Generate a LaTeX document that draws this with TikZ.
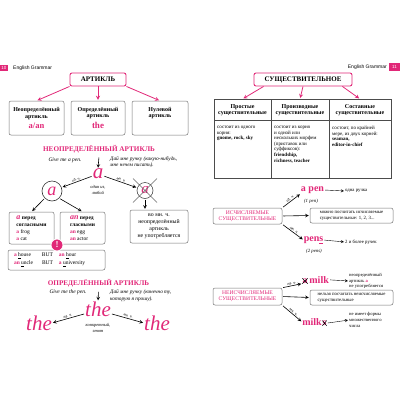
\documentclass[tikz,border=0pt]{standalone}
\usepackage{fontspec}
\setmainfont{Liberation Serif}
\setsansfont{Liberation Sans}
\usetikzlibrary{positioning}
\definecolor{rose}{RGB}{225,40,120}
\newcommand\fsz[2]{\fontsize{#1}{#2}\selectfont}
\newcommand\pk[1]{{\color{rose}\bfseries #1}}
\begin{document}
\begin{tikzpicture}[x=1pt,y=-1pt,>=stealth,
	pink box/.style = {draw=rose, line width=0.9pt, rounded corners=2pt, inner sep=0pt},
	grey box/.style = {draw=black!55, line width=0.5pt, rounded corners=2pt, inner sep=0pt},
	page no/.style = {fill=rose, text=white, font=\sffamily\fsz{4.5}{5}, inner sep=0pt, minimum width=8pt, minimum height=6pt},
	num label/.style = {font=\itshape\fsz{4}{4}, inner sep=0.8pt, sloped, above},
	big letter/.style = {text=rose, font=\itshape\fsz{21}{21}, inner sep=0pt},
	pink arrow/.style = {->, rose, line width=0.8pt, shorten >=1pt},
	black arrow/.style = {->, line width=0.6pt, shorten >=1pt, shorten <=1pt}]
	
	\useasboundingbox (0,0) rectangle (400,400);
	
	% page 10
	\node[page no] (p10) at (4,67.5) {10};
	\node[font=\sffamily\fsz{5}{6}, anchor=west, inner sep=0pt] (hl) at (13,68) {English Grammar};
	
	\node[pink box, minimum width=56pt, minimum height=13pt, font=\bfseries\fsz{7}{7}] (art) at (98,79.5) {АРТИКЛЬ};
	\node[grey box, minimum width=55pt, minimum height=34pt, align=center, font=\bfseries\fsz{6}{6.4}] (indef) at (36.5,118) {Неопределённый\\артикль\\[2pt]{\color{rose}\fsz{8.5}{9}a/an}};
	\node[grey box, minimum width=54pt, minimum height=34pt, align=center, font=\bfseries\fsz{6}{6.4}] (def) at (98,118) {Определённый\\артикль\\[2pt]{\color{rose}\fsz{9}{9}the}};
	\node[grey box, minimum width=56pt, minimum height=34pt, align=center, font=\bfseries\fsz{6}{6.4}] (zero) at (160,118) {Нулевой\\артикль\\[2pt]{\fsz{9}{9}\phantom{the}}};
	
	\path[pink arrow]
	(art.south west) edge (indef.north)
	(art.south) edge (def.north)
	(art.south east) edge (zero.north);
	
	% indefinite article
	\node[text=rose, font=\bfseries\fsz{7.2}{7.2}] (indefhead) at (99,149) {НЕОПРЕДЕЛЁННЫЙ АРТИКЛЬ};
	\node[font=\itshape\fsz{5.5}{6}, inner sep=0pt] (givea) at (65,160.5) {Give me a pen.};
	\node[font=\itshape\fsz{5.3}{6}, inner sep=0pt, anchor=west, align=left] (saya) at (110,162) {Дай мне ручку (какую-нибудь,\\мне нечем писать).};
	\node[big letter] (biga) at (98,174) {a};
	\node[font=\itshape\fsz{4.5}{5.6}, align=center, inner sep=0pt] (anyone) at (98,190) {один из,\\любой};
	\node[circle, draw=black!80, line width=0.6pt, minimum size=20pt, inner sep=0pt, text=rose, font=\itshape\fsz{18}{18}] (acirc) at (52,191) {a};
	\node[circle, draw=black!80, line width=0.5pt, minimum size=16pt, inner sep=0pt, text=rose, font=\itshape\fsz{15}{15}] (nocirc) at (145,190.5) {a};
	\draw[black!60, line width=0.4pt] (nocirc.center) ++(-12,-12) -- ++(24,24) (nocirc.center) ++(12,-12) -- ++(-24,24);
	
	\draw[black arrow] (indefhead.south) -- (biga.north);
	\draw[black arrow,<-] (acirc) -- node[num label] {ед. ч.} (biga);
	\draw[black arrow] (biga) -- node[num label] {мн. ч.} (nocirc);
	
	\node[grey box, minimum width=45pt, minimum height=32pt, align=left, font=\fsz{5.5}{7}] (abox) at (31.5,228) {{\color{rose}\bfseries\itshape\fsz{8}{7}a} {\bfseries перед}\\{\bfseries согласными}\\\pk{a} frog\\\pk{a} cat};
	\node[grey box, minimum width=45pt, minimum height=32pt, align=left, font=\fsz{5.5}{7}] (anbox) at (82.5,228) {{\color{rose}\bfseries\itshape\fsz{8}{7}an} {\bfseries перед}\\{\bfseries гласными}\\\pk{an} egg\\\pk{an} actor};
	\node[grey box, minimum width=58pt, minimum height=33pt, align=center, font=\fsz{5.8}{7}] (noplbox) at (159,226.5) {во мн. ч.\\неопределённый\\артикль\\не употребляется};
	
	\draw[black arrow] (acirc.225) -- (abox.north);
	\draw[black arrow] (acirc.315) -- (anbox.north);
	\draw[black arrow] (nocirc.south) -- (nocirc.south |- noplbox.north);
	
	\node[grey box, minimum width=97pt, minimum height=20pt, align=left, font=\fsz{5.5}{8}] (butbox) at (56.5,260) {\makebox[28pt][l]{\pk{a} \underline{h}ouse}\makebox[17pt][l]{BUT}\makebox[40pt][l]{\pk{an} \underline{h}our}\\\makebox[28pt][l]{\pk{an} \underline{u}ncle}\makebox[17pt][l]{BUT}\makebox[40pt][l]{\pk{a} \underline{u}niversity}};
	\node[circle, fill=rose, draw=white, line width=0.8pt, minimum size=12pt, inner sep=0pt, text=white, font=\bfseries\fsz{9}{9}] (excl) at (57,245) {!};
	
	% definite article
	\node[text=rose, font=\bfseries\fsz{7.2}{7.2}] (defhead) at (98.5,283.5) {ОПРЕДЕЛЁННЫЙ АРТИКЛЬ};
	\node[font=\itshape\fsz{5.5}{6}, inner sep=0pt] (givethe) at (68,292.5) {Give me the pen.};
	\node[font=\itshape\fsz{5.3}{6.5}, inner sep=0pt, anchor=west, align=left] (saythe) at (110,295.5) {Дай мне ручку (конечно ту,\\которую я прошу).};
	\node[big letter] (bigthe) at (98,309) {the};
	\node[font=\itshape\fsz{4.5}{5.6}, align=center, inner sep=0pt] (concrete) at (98,328) {конкретный,\\этот};
	\node[big letter] (lthe) at (39,323) {the};
	\node[big letter] (rthe) at (157,323) {the};
	
	\draw[black arrow] (defhead.south) -- (bigthe.north);
	\draw[black arrow,<-] (lthe.east) -- node[num label] {ед. ч.} (bigthe.200);
	\draw[black arrow] (bigthe.-20) -- node[num label] {мн. ч.} (rthe.west);
	
	% page 11
	\node[page no, minimum width=11pt, minimum height=8pt] (p11) at (394.5,66.5) {11};
	\node[font=\sffamily\fsz{5}{6}, anchor=east, inner sep=0pt] (hr) at (387,67) {English Grammar};
	
	\node[pink box, minimum width=98pt, minimum height=13pt, font=\bfseries\fsz{7}{7}] (noun) at (303,79.5) {СУЩЕСТВИТЕЛЬНОЕ};
	
	\draw[black!70, line width=0.5pt] (214,99) rectangle (391,178) (271,99) -- (271,178) (329,99) -- (329,178) (214,120) -- (391,120);
	\coordinate (col1) at (242.5,99);
	\coordinate (col2) at (300,99);
	\coordinate (col3) at (360,99);
	\path[pink arrow]
	(noun.190) edge (col1)
	(noun.south) edge (col2)
	(noun.-10) edge (col3);
	
	\node[align=center, font=\bfseries\fsz{6}{6.2}, inner sep=0pt] (h1) at (242.5,110) {Простые\\существительные};
	\node[align=center, font=\bfseries\fsz{6}{6.2}, inner sep=0pt] (h2) at (300,110) {Производные\\существительные};
	\node[align=center, font=\bfseries\fsz{6}{6.2}, inner sep=0pt] (h3) at (360,110) {Составные\\существительные};
	\node[anchor=north west, align=left, font=\fsz{5}{5.6}, inner sep=0pt] (c1) at (217,126) {состоит из одного\\корня:\\\textbf{gnome, rock, sky}};
	\node[anchor=north west, align=left, font=\fsz{5}{5.6}, inner sep=0pt] (c2) at (274,126) {состоит из корня\\и одной или\\нескольких морфем\\(приставок или\\суффиксов):\\\textbf{friendship,}\\\textbf{richness, teacher}};
	\node[anchor=north west, align=left, font=\fsz{5}{5.6}, inner sep=0pt] (c3) at (332,126) {состоит, по крайней\\мере, из двух корней:\\\textbf{seaman,}\\\textbf{editor-in-chief}};
	
	% countable
	\node[grey box, minimum width=69pt, minimum height=16pt, align=center, text=rose, font=\fsz{5.6}{6}] (count) at (247.5,216) {ИСЧИСЛЯЕМЫЕ\\СУЩЕСТВИТЕЛЬНЫЕ};
	\node[text=rose, font=\bfseries\fsz{10}{10}, inner sep=0pt] (apen) at (312.5,190) {a pen};
	\node[font=\itshape\fsz{4.8}{5}, inner sep=0pt] (onepen) at (311,201) {(1 pen)};
	\node[font=\fsz{4.8}{5}, inner sep=0pt, anchor=west] (onepenru) at (345,191) {одна ручка};
	\node[grey box, minimum width=83pt, minimum height=15pt, align=left, font=\fsz{4.8}{6}] (countnote) at (351.5,215.5) {можно посчитать исчисляемые\\существительные: 1, 2, 3...};
	\node[text=rose, font=\bfseries\fsz{10}{10}, inner sep=0pt] (pens) at (313.5,240) {pen\underline{s}};
	\node[font=\itshape\fsz{4.8}{5}, inner sep=0pt] (twopens) at (314,251) {(2 pens)};
	\node[font=\fsz{4.8}{5}, inner sep=0pt, anchor=west] (twopensru) at (345,242) {2 и более ручек};
	
	\draw[black arrow] (count.north east) -- node[num label] {ед. ч.} (apen.south west);
	\draw[black arrow] (count.east) -- (countnote.west);
	\draw[black arrow] (count.south east) -- node[num label] {мн. ч.} (pens.west);
	\draw[black arrow, line width=0.4pt] (apen.east) -- (onepenru.west);
	\draw[black arrow, line width=0.4pt] (pens.east) -- (twopensru.west);
	
	% uncountable
	\node[grey box, minimum width=69pt, minimum height=17pt, align=center, text=rose, font=\fsz{5.6}{6}] (uncount) at (247.5,296.5) {НЕИСЧИСЛЯЕМЫЕ\\СУЩЕСТВИТЕЛЬНЫЕ};
	\node[text=rose, font=\bfseries\fsz{10}{10}, inner sep=0pt] (nota) at (305,281) {a};
	\node[text=rose, font=\bfseries\fsz{10}{10}, inner sep=0pt, anchor=base west] (milk) at ([xshift=1.5pt]nota.base east) {milk};
	\draw[line width=0.5pt] (nota.north west) -- (nota.south east) (nota.south west) -- (nota.north east);
	\node[font=\fsz{4.6}{5.6}, inner sep=0pt, anchor=west, align=left] (milknote) at (349,281) {неопределённый\\артикль {\color{rose}\bfseries a}\\не употребляется};
	\node[grey box, minimum width=83pt, minimum height=15pt, align=left, font=\fsz{4.8}{6}] (nocount) at (351.5,297.5) {нельзя посчитать неисчисляемые\\существительные};
	\node[text=rose, font=\bfseries\fsz{10}{10}, inner sep=0pt] (milks) at (312,322) {milk};
	\node[text=rose, font=\bfseries\fsz{10}{10}, inner sep=0pt, anchor=base west] (nots) at ([xshift=0.5pt]milks.base east) {s};
	\draw[line width=0.5pt] (nots.north west) -- (nots.south east) (nots.south west) -- (nots.north east);
	\node[font=\fsz{4.6}{5.6}, inner sep=0pt, anchor=west, align=left] (milksnote) at (349,320) {не имеет формы\\множественного\\числа};
	
	\draw[black arrow] (uncount.north east) -- node[num label] {ед. ч.} (nota.south west);
	\draw[black arrow] (uncount.east) -- (nocount.west);
	\draw[black arrow] (uncount.south east) -- node[num label] {мн. ч.} (milks.west);
	\draw[black arrow, line width=0.4pt] (milk.east) -- (milknote.west);
	\draw[black arrow, line width=0.4pt] (nots.east) -- (milksnote.west);
\end{tikzpicture}
\end{document}
